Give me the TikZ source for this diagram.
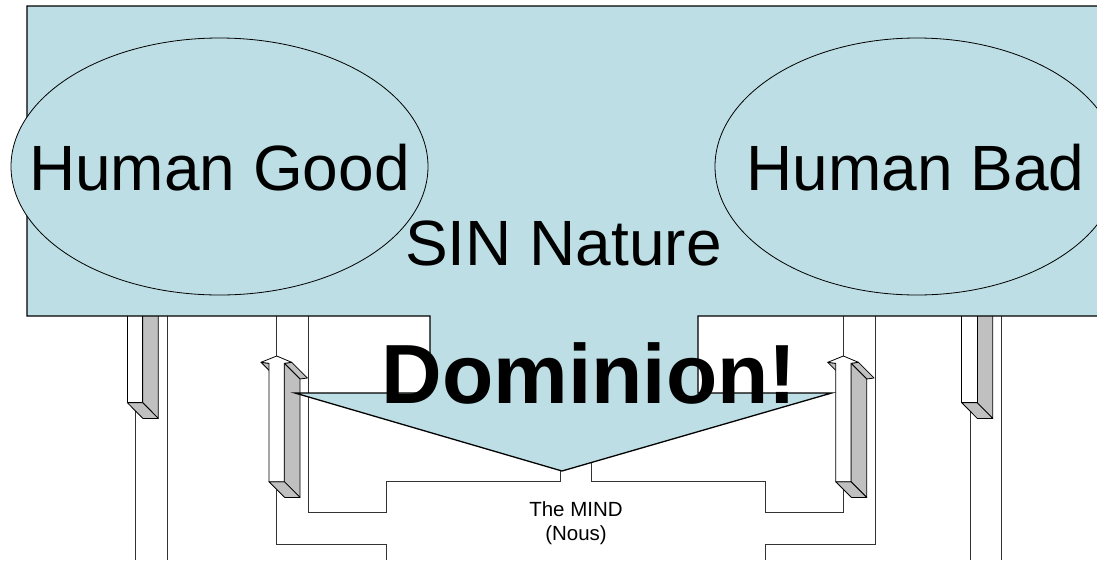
\documentclass[tikz,border=0pt]{standalone}
\usepackage{fontspec}
\setmainfont{Liberation Sans}
\definecolor{sinblue}{RGB}{188,222,228}
\definecolor{blockgray}{RGB}{192,192,192}
\begin{document}
\begin{tikzpicture}[x=1pt,y=-1pt,
  wire/.style={draw=black!80,line width=0.9pt},
  face/.style={draw=black,line width=0.8pt,fill=blockgray,line join=round},
  frontface/.style={draw=black,line width=0.8pt,fill=white,line join=round},
  sinshape/.style={draw=black,line width=1.3pt,fill=sinblue,line join=miter},
  oval/.style={draw=black,line width=0.8pt,fill=sinblue},
  bigtext/.style={inner sep=0pt,anchor=base,font=\fontsize{64}{70}\selectfont},
  smalltext/.style={inner sep=0pt,anchor=base,font=\fontsize{20.5}{24}\selectfont}]
\clip (0,0) rectangle (1097,560);
\fill[white] (0,0) rectangle (1097,560);

% ---- named points ----
\coordinate (lTip) at (276.7,356);
\coordinate (lBot) at (276.7,490);
\coordinate (rTip) at (843.3,356);
\coordinate (rBot) at (843.3,490);
\coordinate (tipL) at (560,465);
\coordinate (tipR) at (591,455);
\coordinate (flBot) at (135,410);
\coordinate (frBot) at (970,410);

% ---- connectors ----
\draw[wire] (flBot) -- (135,560);
\draw[wire] (167,316) -- (167,560);
\draw[wire] (frBot) -- (970,560);
\draw[wire] (1001,316) -- (1001,560);
\draw[wire] (276.7,316) -- (lTip);
\draw[wire] (lBot) -- (276.7,544.3) -- (386.7,544.3) -- (386.7,560);
\draw[wire] (308.3,316) -- (308.3,512.3) -- (386.7,512.3) -- (386.7,481.7) -- (560,481.7) -- (tipL);
\draw[wire] (843.3,316) -- (rTip);
\draw[wire] (rBot) -- (843.3,512.3) -- (765,512.3) -- (765,481.7) -- (591,481.7) -- (tipR);
\draw[wire] (875,316) -- (875,544.3) -- (765,544.3) -- (765,560);

% ---- 3D bars (tops hidden under the big shape) ----
\foreach \bx in {127.3,961.7}{
  \begin{scope}[shift={(\bx,402.7)}]
    \path[face] (15.4,-100) -- (31,-100) -- (31,15.7) -- (15.4,0) -- cycle;
    \path[face] (0,0) -- (15.4,0) -- (31,15.7) -- (15.6,15.7) -- cycle;
    \path[frontface] (0,-100) -- (0,0) -- (15.4,0) -- (15.4,-100) -- cycle;
  \end{scope}
}

% ---- 3D up arrows ----
\foreach \ax in {269,835.7}{
  \begin{scope}[shift={(\ax,481.7)}]
    \path[face] (-8,-119.4) -- (0,-118.4) -- (15.7,-102.7) -- (7.7,-103.7) -- cycle;
    \path[face] (15.3,-118.4) -- (22.7,-119.4) -- (38.4,-103.7) -- (31,-102.7) -- cycle;
    \path[face] (15.3,-118.4) -- (31,-102.7) -- (31,15.7) -- (15.3,0) -- cycle;
    \path[face] (0,0) -- (15.3,0) -- (31,15.7) -- (15.7,15.7) -- cycle;
    \path[frontface] (0,0) -- (0,-118.4) -- (-8,-119.4) -- (7.7,-125.7) -- (22.7,-119.4) -- (15.3,-118.4) -- (15.3,0) -- cycle;
  \end{scope}
}

% ---- SIN nature box with Dominion arrow ----
\path[sinshape] (27,6) -- (1115,6) -- (1115,316) -- (698,316) -- (698,393)
  -- (831.7,393) -- (562,471) -- (295,393) -- (430,393) -- (430,316) -- (27,316) -- cycle;

\path[oval] (219.5,166.5) ellipse [x radius=208.5pt, y radius=128.5pt];
\path[oval] (917,166.5) ellipse [x radius=202pt, y radius=128.5pt];

% ---- texts ----
\node[bigtext] (good) at (219.5,190) {Human Good};
\node[bigtext] (bad) at (915.5,190) {Human Bad};
\node[bigtext] (sin) at (563.5,265) {SIN Nature};
\node[inner sep=0pt,anchor=base,font=\fontsize{84}{90}\selectfont\bfseries] (dom) at (589,403) {Dominion!};
\node[smalltext] (mind) at (576,516) {The MIND};
\node[smalltext] (nous) at (576,540.7) {(Nous)};
\end{tikzpicture}
\end{document}
